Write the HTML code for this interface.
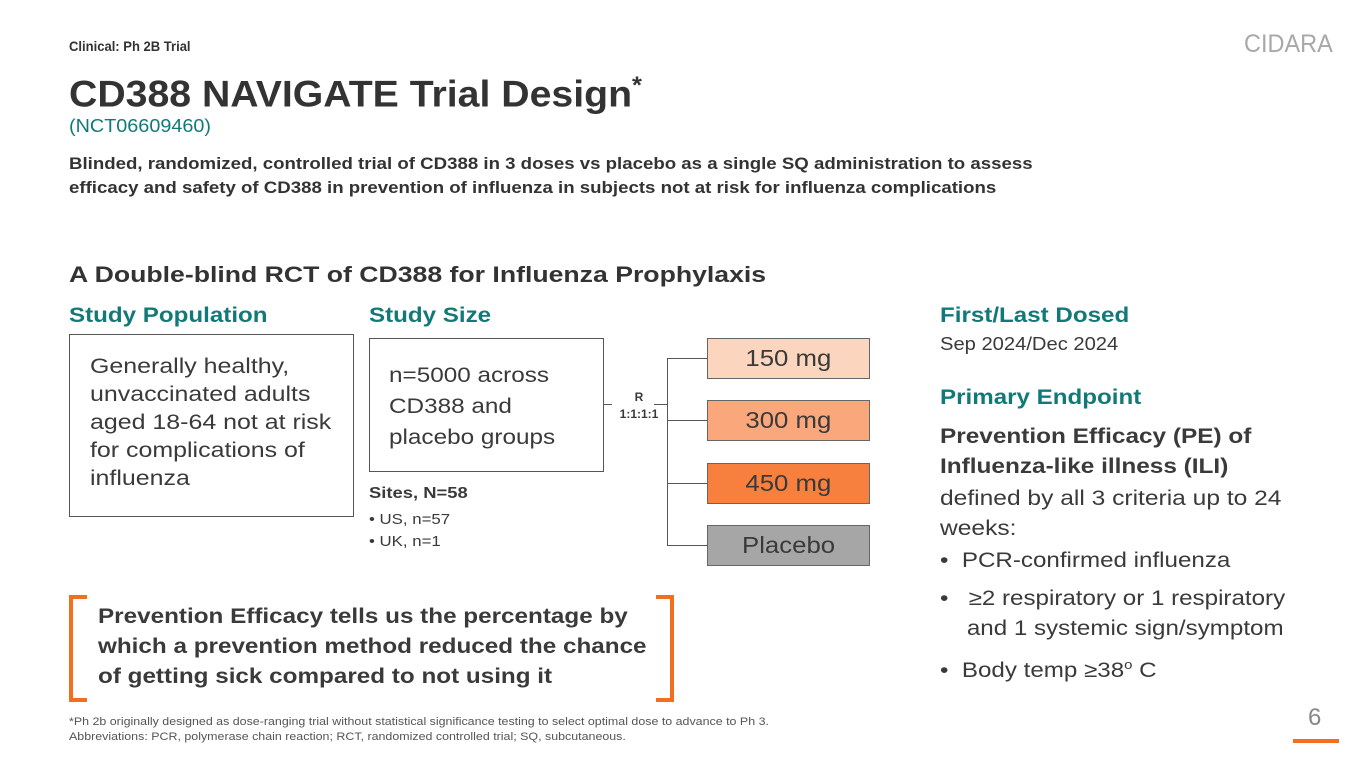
<!DOCTYPE html>
<html><head><meta charset="utf-8"><style>
body{margin:0;width:1365px;height:768px;position:relative;background:#fff;font-family:"Liberation Sans",sans-serif;overflow:hidden;color:#3a3a3a}
.a{position:absolute;white-space:nowrap;transform-origin:0 0}
.teal{color:#117a78;font-weight:bold;font-size:21px;transform:scaleX(1.15)}
.box{position:absolute;border:1px solid #555;box-sizing:border-box}
.dose{position:absolute;left:707px;width:163px;height:41px;border:1px solid #666;box-sizing:border-box;text-align:center;line-height:39px;color:#3a3a3a}
.dose span{display:inline-block;font-size:23px;transform:scaleX(1.12)}
.ln{position:absolute;background:#555}
</style></head><body>
<div class="a" style="left:69px;top:38px;font-size:14px;font-weight:bold;color:#333;transform:scaleX(0.93)">Clinical: Ph 2B Trial</div>
<div class="a" style="left:1244px;top:30px;font-size:25px;color:#a8a8a8;transform:scaleX(0.94)">CIDARA</div>
<div class="a" style="left:69px;top:72px;font-size:37px;font-weight:bold;color:#333;transform:scaleX(1.06)">CD388 NAVIGATE Trial Design<sup style="font-size:24px">*</sup></div>
<div class="a" style="left:69px;top:116px;font-size:18px;color:#117a78;transform:scaleX(1.1)">(NCT06609460)</div>
<div class="a" style="left:69px;top:152px;font-size:16.5px;font-weight:bold;color:#333;line-height:24px;transform:scaleX(1.13)">Blinded, randomized, controlled trial of CD388 in 3 doses vs placebo as a single SQ administration to assess<br>efficacy and safety of CD388 in prevention of influenza in subjects not at risk for influenza complications</div>
<div class="a" style="left:69px;top:262px;font-size:22px;font-weight:bold;color:#333;transform:scaleX(1.21)">A Double-blind RCT of CD388 for Influenza Prophylaxis</div>
<div class="a teal" style="left:69px;top:304px">Study Population</div>
<div class="a teal" style="left:369px;top:304px">Study Size</div>
<div class="a teal" style="left:940px;top:304px">First/Last Dosed</div>
<div class="a" style="left:940px;top:334px;font-size:18px;transform:scaleX(1.12)">Sep 2024/Dec 2024</div>
<div class="a teal" style="left:940px;top:386px">Primary Endpoint</div>
<div class="a" style="left:940px;top:422px;font-size:21px;font-weight:bold;line-height:30px;transform:scaleX(1.16)">Prevention Efficacy (PE) of<br>Influenza-like illness (ILI)</div>
<div class="a" style="left:940px;top:484px;font-size:21px;line-height:30px;transform:scaleX(1.17)">defined by all 3 criteria up to 24<br>weeks:</div>
<div class="a" style="left:940px;top:546px;font-size:21px;line-height:30px;transform:scaleX(1.15)">•&nbsp; PCR-confirmed influenza</div>
<div class="a" style="left:940px;top:584px;font-size:21px;line-height:30px;transform:scaleX(1.15)">•&nbsp;&nbsp; ≥2 respiratory or 1 respiratory<br>&nbsp;&nbsp;&nbsp;&nbsp;and 1 systemic sign/symptom</div>
<div class="a" style="left:940px;top:650px;font-size:21px;line-height:30px;transform:scaleX(1.15)">•&nbsp; Body temp ≥38<sup style="font-size:13px">o</sup> C</div>
<div class="box" style="left:69px;top:334px;width:285px;height:183px"></div>
<div class="a" style="left:90px;top:352px;font-size:21.5px;line-height:28px;transform:scaleX(1.16)">Generally healthy,<br>unvaccinated adults<br>aged 18-64 not at risk<br>for complications of<br>influenza</div>
<div class="box" style="left:369px;top:338px;width:235px;height:134px"></div>
<div class="a" style="left:389px;top:360px;font-size:21.5px;line-height:31px;transform:scaleX(1.13)">n=5000 across<br>CD388 and<br>placebo groups</div>
<div class="a" style="left:369px;top:485px;font-size:16px;font-weight:bold;transform:scaleX(1.15)">Sites, N=58</div>
<div class="a" style="left:369px;top:509px;font-size:15px;line-height:22px;transform:scaleX(1.12)">• US, n=57<br>• UK, n=1</div>
<div class="ln" style="left:604px;top:404px;width:8px;height:1px"></div>
<div class="a" style="left:614px;top:389px;font-size:12px;font-weight:bold;text-align:center;line-height:17px;width:50px">R<br>1:1:1:1</div>
<div class="ln" style="left:654px;top:404px;width:13px;height:1px"></div>
<div class="ln" style="left:667px;top:358px;width:1px;height:188px"></div>
<div class="ln" style="left:667px;top:358px;width:40px;height:1px"></div>
<div class="ln" style="left:667px;top:420px;width:40px;height:1px"></div>
<div class="ln" style="left:667px;top:483px;width:40px;height:1px"></div>
<div class="ln" style="left:667px;top:545px;width:40px;height:1px"></div>
<div class="dose" style="top:338px;background:#fcd5bf"><span>150 mg</span></div>
<div class="dose" style="top:400px;background:#f9a77b"><span>300 mg</span></div>
<div class="dose" style="top:463px;background:#f8803f"><span>450 mg</span></div>
<div class="dose" style="top:525px;background:#a6a6a6"><span>Placebo</span></div>
<div class="a" style="left:69px;top:595px;width:14px;height:99px;border:4px solid #f26f21;border-right:none"></div>
<div class="a" style="left:656px;top:595px;width:14px;height:99px;border:4px solid #f26f21;border-left:none"></div>
<div class="a" style="left:98px;top:602px;font-size:21px;font-weight:bold;line-height:30px;color:#3a3a3a;transform:scaleX(1.155)">Prevention Efficacy tells us the percentage by<br>which a prevention method reduced the chance<br>of getting sick compared to not using it</div>
<div class="a" style="left:69px;top:715px;font-size:11px;line-height:15px;color:#555;transform:scaleX(1.13)">*Ph 2b originally designed as dose-ranging trial without statistical significance testing to select optimal dose to advance to Ph 3.<br>Abbreviations: PCR, polymerase chain reaction; RCT, randomized controlled trial; SQ, subcutaneous.</div>
<div class="a" style="left:1308px;top:704px;font-size:24px;color:#888">6</div>
<div class="a" style="left:1293px;top:739px;width:46px;height:4px;background:#f26f21"></div>
</body></html>
